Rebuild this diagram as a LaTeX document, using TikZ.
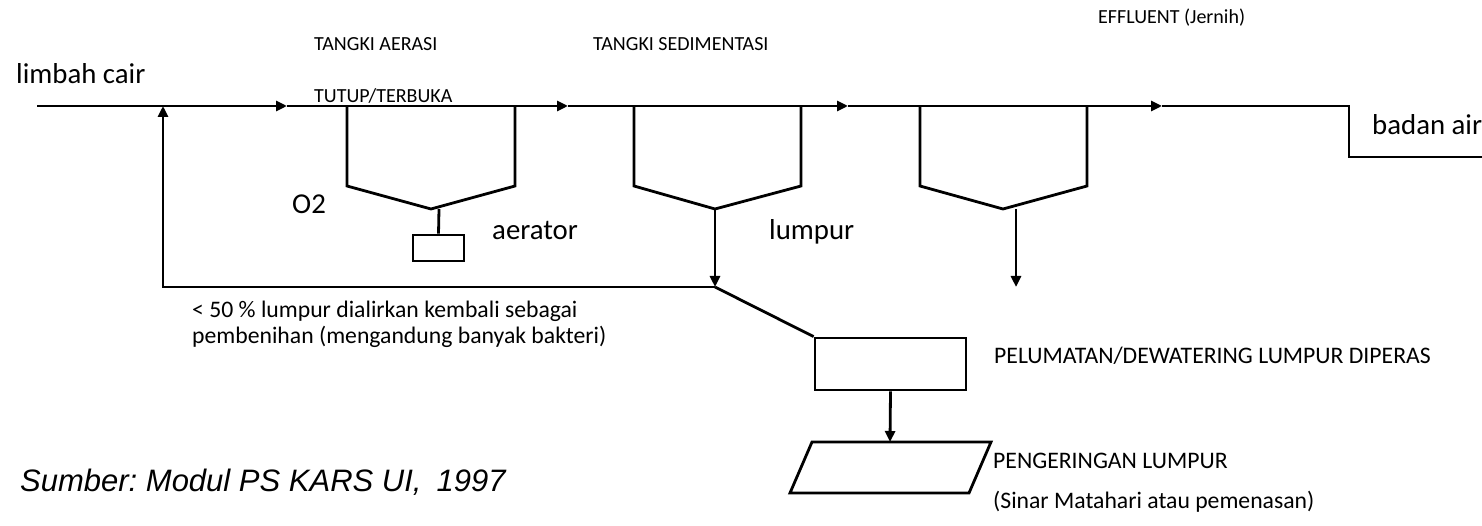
\documentclass[tikz,border=0pt]{standalone}
\usepackage{fontspec}
\setmainfont{Carlito}
\newfontfamily\arialfont{Liberation Sans}
\usetikzlibrary{arrows.meta}
\frenchspacing
\tikzset{
  pipe/.style={line width=2.8pt, line join=miter},
  flow/.style={pipe, -{Triangle[length=11pt,width=10pt]}},
  unit/.style={draw, line width=2.8pt, inner sep=0pt},
  big/.style={anchor=base west, inner sep=0pt, font=\fontsize{28.8}{34}\selectfont},
  small/.style={anchor=base west, inner sep=0pt, font=\fontsize{20}{24}\selectfont},
  mid/.style={anchor=base west, inner sep=0pt, font=\fontsize{23.7}{28}\selectfont},
}
\begin{document}
\begin{tikzpicture}[x=1pt,y=-1pt]
\useasboundingbox (0,0) rectangle (1482,526);
% main line coordinates
\coordinate (in) at (37,106);
\coordinate (j1) at (163,106);
\coordinate (t1) at (287,106);
\coordinate (t2) at (568,106);
\coordinate (t3) at (848,106);
\coordinate (t4) at (1162,106);
\coordinate (st) at (1349,106);
\coordinate (sb) at (1349,157);
\coordinate (out) at (1482,157);
% tanks
\coordinate (k1a) at (347,106); \coordinate (k1b) at (347,186); \coordinate (k1c) at (431,209); \coordinate (k1d) at (515,186); \coordinate (k1e) at (515,106);
\coordinate (k2a) at (634,106); \coordinate (k2b) at (634,186); \coordinate (k2c) at (715,209); \coordinate (k2d) at (801,186); \coordinate (k2e) at (801,106);
\coordinate (k3a) at (920,106); \coordinate (k3b) at (920,186); \coordinate (k3c) at (1003,209); \coordinate (k3d) at (1087,186); \coordinate (k3e) at (1087,106);
\coordinate (s1) at (439,209);
\coordinate (s3) at (1016,209);
\coordinate (s3e) at (1016,287);
\coordinate (rj) at (715,287);
\coordinate (rc) at (163,287);
% units
\node[unit, minimum width=51pt, minimum height=26pt] (aer) at (438.5,248) {};
\node[unit, minimum width=151pt, minimum height=52pt] (dew) at (890.5,364) {};
\coordinate (pa) at (812,442); \coordinate (pb) at (991,442); \coordinate (pc) at (969,493); \coordinate (pd) at (790,493);
\coordinate (ptop) at (890,442);

% main flow
\draw[flow] (in) -- (t1);
\draw[flow] (t1) -- (t2);
\draw[flow] (t2) -- (t3);
\draw[flow] (t3) -- (t4);
\draw[pipe] (t4) -- (st) -- (sb) -- (out);
% tanks
\draw[pipe] (k1a) -- (k1b) -- (k1c) -- (k1d) -- (k1e);
\draw[pipe] (k2a) -- (k2b) -- (k2c) -- (k2d) -- (k2e);
\draw[pipe] (k3a) -- (k3b) -- (k3c) -- (k3d) -- (k3e);
\draw[pipe] (s1) -- (aer.north);
\draw[flow] (k2c) -- (rj);
\draw[flow] (s3) -- (s3e);
\draw[flow] (rj) -- (rc) -- (j1);
\draw[pipe] (rj) -- (dew.north west);
\draw[flow] (dew.south) -- (ptop);
\draw[pipe] (pa) -- (pb) -- (pc) -- (pd) -- cycle;

% texts
\node[big] (tin) at (16,84) {limbah cair};
\node[small] (tta) at (314,51) {TANGKI AERASI};
\node[small] (ttt) at (314,103) {TUTUP/TERBUKA};
\node[small] (tts) at (593,51) {TANGKI SEDIMENTASI};
\node[small] (tef) at (1098,24) {EFFLUENT (Jernih)};
\node[big] (tba) at (1372,135) {badan air};
\node[big] (to2) at (292,214) {O2};
\node[big] (tae) at (492,240) {aerator};
\node[big] (tlu) at (769,240) {lumpur};
\node[mid] (tr1) at (192,317) {< 50 \% lumpur dialirkan kembali sebagai};
\node[mid] (tr2) at (192,344) {pembenihan (mengandung banyak bakteri)};
\node[mid] (tpe) at (994,363) {PELUMATAN/DEWATERING LUMPUR DIPERAS};
\node[mid] (tpg) at (993,468) {PENGERINGAN LUMPUR};
\node[mid] (tsi) at (993,508) {(Sinar Matahari atau pemenasan)};
\node[anchor=base west, inner sep=0pt, font=\arialfont\itshape\fontsize{31}{36}\selectfont] (tsu) at (20,491) {Sumber: Modul PS KARS UI,\hspace{15pt}1997};
\end{tikzpicture}
\end{document}
